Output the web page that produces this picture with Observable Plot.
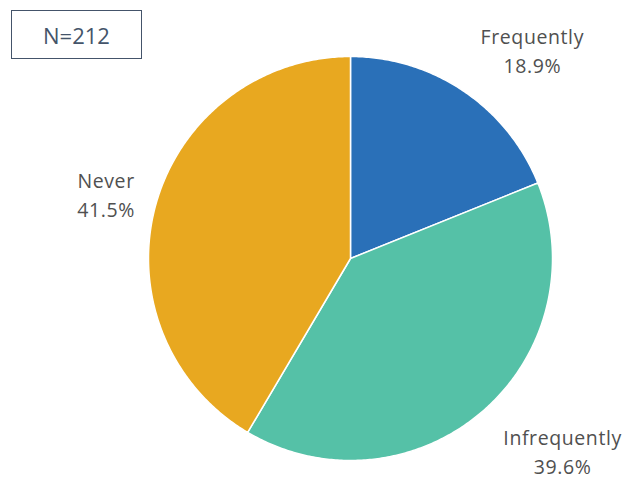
<!DOCTYPE html>
<html><head><meta charset="utf-8">
<script src="https://cdn.jsdelivr.net/npm/d3@7"></script>
<script src="https://cdn.jsdelivr.net/npm/@observablehq/plot@0.6"></script>
<style>
body{margin:0;background:#fff;font-family:"Open Sans",sans-serif;}
#wrap{position:relative;width:637px;height:479px;}
#nbox{position:absolute;left:11px;top:10px;width:129px;height:47px;border:1.5px solid #44546a;box-sizing:content-box;
 display:flex;align-items:center;justify-content:center;font-size:22px;color:#44546a;font-family:"Open Sans",sans-serif;}
svg text{letter-spacing:0.6px;}
</style></head>
<body><div id="wrap"><div id="nbox">N=212</div></div>
<script>
const categories = ["Frequently", "Infrequently", "Never"];
const shares = [18.9, 39.6, 41.5];
const colors = ["#2a70b8", "#55c1a7", "#e8a820"];
const sampleLabel = "N=212";

// label placement (data units), not data
const labelPos = [[0.90, 1.035], [1.05, -0.95], [-1.21, 0.325]];

const total = d3.sum(shares);
let acc = 0;
const slices = categories.map((c, i) => {
  const a0 = acc / total * 2 * Math.PI;
  acc += shares[i];
  const a1 = acc / total * 2 * Math.PI;
  return {category: c, value: shares[i], a0, a1};
});
const pts = [];
for (const s of slices) {
  pts.push({category: s.category, x: 0, y: 0});
  const n = Math.max(2, Math.ceil((s.a1 - s.a0) / 0.01));
  for (let k = 0; k <= n; k++) {
    const a = s.a0 + (s.a1 - s.a0) * k / n;
    pts.push({category: s.category, x: Math.sin(a), y: Math.cos(a)});
  }
  pts.push({category: s.category, x: 0, y: 0});
}
const labels = slices.map((s, i) => ({
  category: s.category, x: labelPos[i][0], y: labelPos[i][1],
  text: `${s.category}\n${s.value.toFixed(1)}%`
}));

const chart = Plot.plot({
  width: 637, height: 479,
  marginLeft: 148, marginRight: 85, marginTop: 56, marginBottom: 19,
  x: {domain: [-1, 1], axis: null},
  y: {domain: [-1, 1], axis: null},
  color: {domain: categories, range: colors},
  style: {fontFamily: "'Open Sans', sans-serif", background: "white", overflow: "visible"},
  marks: [
    Plot.line(pts, {x: "x", y: "y", z: "category", fill: "category", stroke: "white", strokeWidth: 1.5, curve: "linear"}),
    Plot.text(labels, {x: "x", y: "y", text: "text", fontSize: 19.5, fill: "#505050", lineHeight: 1.5, textAnchor: "middle", clip: false})
  ]
});
chart.style.position = "absolute";
chart.style.left = "0"; chart.style.top = "0";
const wrap = document.getElementById("wrap");
wrap.insertBefore(chart, wrap.firstChild);
document.getElementById("nbox").textContent = sampleLabel;
</script></body></html>
